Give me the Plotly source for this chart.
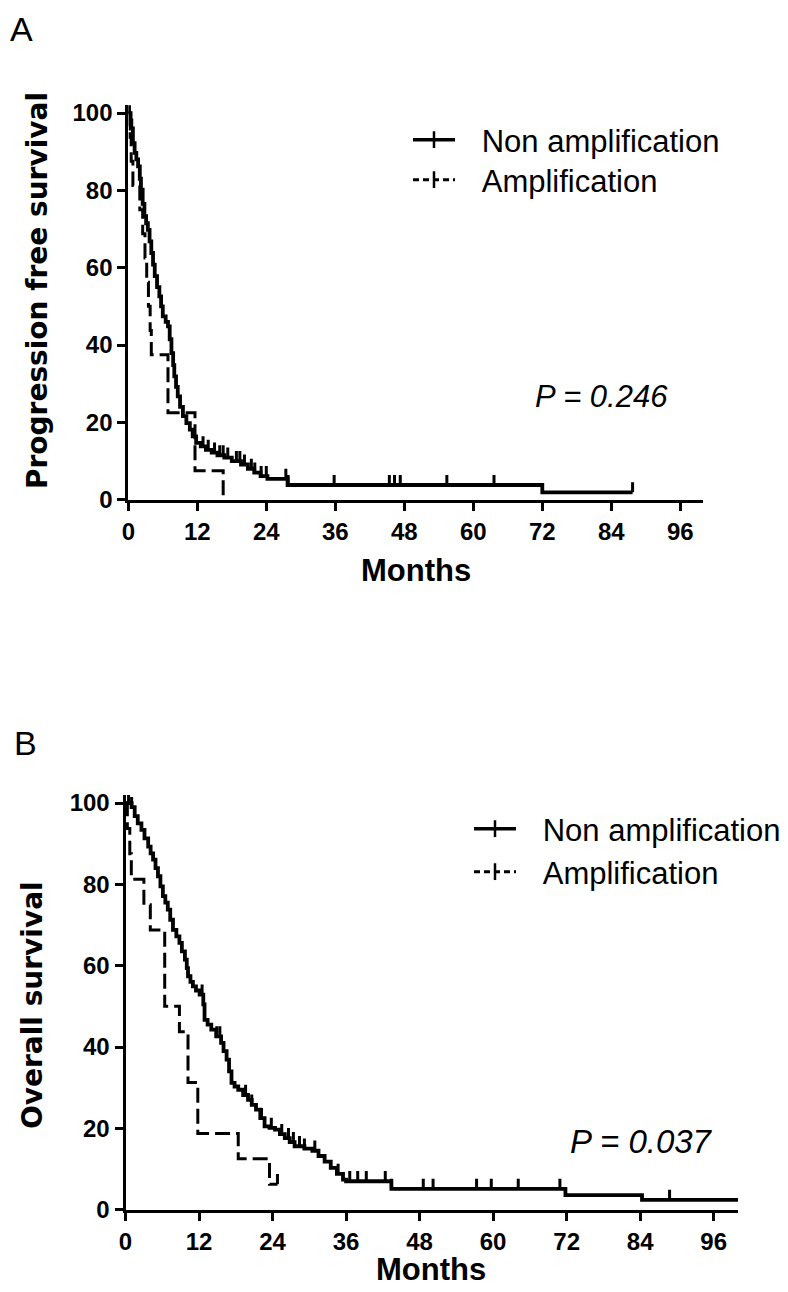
import numpy as np
import plotly.graph_objects as go

# ---------------- DATA ----------------
x_ticks = [0, 12, 24, 36, 48, 60, 72, 84, 96]
y_ticks = [0, 20, 40, 60, 80, 100]

# Panel A: progression free survival (months, %)
pfs_non_t = [0, 0.4, 0.8, 1.1, 1.4, 1.7, 2.0, 2.2, 2.5, 2.8, 3.1, 3.4, 3.7, 4.0, 4.3, 4.6,
             5.0, 5.4, 5.7, 6.0, 6.5, 6.9, 7.2, 7.5, 7.8, 8.0, 8.3, 8.6, 9.0, 9.5, 10.1,
             10.7, 11.2, 11.8, 12.6, 13.5, 14.5, 15.5, 16.7, 18.0, 19.6, 20.8, 21.9, 23.0,
             24.2, 27.7, 72.0, 87.7]
pfs_non_s = [100, 96, 92.2, 89.7, 88, 86.2, 83, 80.2, 76.5, 73.3, 71.5, 69.8, 66.8, 63.8,
             60.8, 57.8, 55, 52.6, 50, 47.4, 46, 44.8, 41.5, 37.9, 34.8, 31.9, 29.2, 26.7,
             24, 21.6, 19.8, 18.1, 16.4, 14.7, 13.8, 12.9, 12.2, 11.5, 10.9, 10.0, 9.1, 8.0,
             7.0, 6.1, 5.4, 3.8, 1.9, 1.9]
pfs_non_cens = [0.2, 0.6, 13.0, 13.9, 15.0, 15.9, 16.5, 17.3, 18.8, 19.4, 20.2, 21.4, 22.0,
                23.1, 24.0, 27.4, 27.8, 35.8, 45.4, 46.3, 47.3, 55.4, 63.6, 87.7]

pfs_amp_t = [0, 0.3, 0.5, 0.8, 2.0, 2.5, 2.9, 3.2, 3.5, 3.8, 4.0, 6.9, 11.6, 16.5]
pfs_amp_s = [100, 93.75, 87.5, 81.25, 75, 68.75, 62.5, 56.25, 50, 43.75, 37.5, 22.5, 7.5, 0]
pfs_amp_cens = []

# Panel B: overall survival (months, %)
os_non_t = [0, 1.0, 1.5, 2.0, 2.6, 3.1, 3.7, 4.1, 4.5, 4.9, 5.3, 5.7, 6.1, 6.5, 6.9, 7.3,
            7.75, 8.3, 8.8, 9.2, 9.7, 10.0, 10.2, 10.6, 11.0, 11.5, 12.1, 12.7, 12.9, 13.4,
            14.0, 14.8, 15.6, 16.0, 16.5, 16.9, 17.3, 17.8, 18.4, 19.2, 20.0, 20.6, 21.3,
            22.0, 22.7, 23.5, 24.4, 25.2, 26.0, 26.8, 27.6, 29.2, 30.5, 31.5, 32.5, 33.5,
            34.5, 35.5, 36.0, 43.4, 71.8, 84.3, 100.0]
os_non_s = [100, 99, 96.8, 95, 93.4, 91.3, 89.3, 87.6, 86.1, 84, 82, 79.5, 77.1, 75.5, 73.8,
            71.3, 68.8, 67.2, 65.6, 63.5, 61.5, 59.4, 57.4, 56, 54.9, 53.9, 52.9, 50.5, 46.7,
            45.5, 44.3, 42.6, 41, 39, 36.9, 34, 31.2, 30.3, 29.5, 28.2, 27, 25.8, 24.6, 22.5,
            20.5, 20.1, 19.7, 18.6, 17.6, 16.6, 15.6, 15.0, 14.5, 13.2, 11.8, 10.3, 8.8, 7.4,
            7.0, 5.1, 3.6, 2.4, 2.4]
os_non_cens = [0.5, 1.0, 12.5, 14.9, 15.4, 19.6, 20.6, 22.2, 23.8, 25.5, 26.6, 27.4, 28.4,
               29.2, 30.9, 34.7, 36.6, 37.9, 39.3, 42.4, 43.4, 48.6, 50.2, 57.3, 59.7, 64.1,
               70.9, 88.8]

os_amp_t = [0, 0.3, 0.7, 0.95, 3.0, 4.05, 6.4, 8.8, 10.2, 11.8, 18.4, 23.5, 24.8]
os_amp_s = [100, 93.75, 87.5, 81.25, 75, 68.75, 50, 43.75, 31.25, 18.75, 12.5, 6.25, 6.25]
os_amp_cens = [24.8]

legend_labels = ["Non amplification", "Amplification"]
p_texts = ["P = 0.246", "P = 0.037"]
y_titles = ["Progression free survival", "Overall survival"]
x_title = "Months"
panel_labels = ["A", "B"]

# ---------------- LAYOUT (pixels) ----------------
W, H = 788, 1292
FONT = "Liberation Sans"
GAP = "\u2002\u2009"  # space between legend symbol and text

def step_at(ts, ss, t):
    ts = np.asarray(ts); ss = np.asarray(ss)
    idx = np.searchsorted(ts, t, side="right") - 1
    return ss[np.clip(idx, 0, len(ss) - 1)]

# axis pixel geometry: (x0px, x100px, y0px, y102px)
geomA = (120.3, 695.3, 491.7, 97.3)
geomB = (117.5, 730.2, 1201.7, 786.9)

fig = go.Figure()

panels = [
    dict(xa="x", ya="y", non=(pfs_non_t, pfs_non_s, pfs_non_cens),
         amp=(pfs_amp_t, pfs_amp_s, pfs_amp_cens), legends=("legend", "legend2"), tick=2.6),
    dict(xa="x2", ya="y2", non=(os_non_t, os_non_s, os_non_cens),
         amp=(os_amp_t, os_amp_s, os_amp_cens), legends=("legend3", "legend4"), tick=2.5),
]

for pi, p in enumerate(panels):
    for key, dash, lw in (("non", "solid", 3.8), ("amp", "15px,6px", 3.0)):
        t, s, c = p[key]
        fig.add_trace(go.Scatter(x=t, y=s, mode="lines", line=dict(color="black", width=lw, dash=dash, shape="hv"),
                                 xaxis=p["xa"], yaxis=p["ya"], showlegend=False, cliponaxis=False,
                                 hoverinfo="skip"))
        if len(c):
            cy = step_at(t, s, c)
            fig.add_trace(go.Scatter(x=c, y=cy, mode="markers",
                                     marker=dict(size=1, color="rgba(0,0,0,0)"),
                                     error_y=dict(type="data", symmetric=False, array=[p["tick"]] * len(c),
                                                  arrayminus=[0] * len(c), width=0, thickness=3, color="black"),
                                     xaxis=p["xa"], yaxis=p["ya"], showlegend=False, cliponaxis=False,
                                     hoverinfo="skip"))
    # legend-only entries (one legend box per row for exact spacing)
    for li, (name, dash, lw) in enumerate(((legend_labels[0], "solid", 3.5), (legend_labels[1], "6px,4px", 3.0))):
        fig.add_trace(go.Scatter(x=[None], y=[None], mode="lines+markers", name=GAP + name,
                                 line=dict(color="black", width=lw, dash=dash),
                                 marker=dict(symbol="line-ns", size=12, line=dict(color="black", width=2.5)),
                                 xaxis=p["xa"], yaxis=p["ya"], legend=p["legends"][li]))

def axis_common(tickvals, rng):
    return dict(range=rng, tickvals=tickvals, ticks="outside", ticklen=8, tickwidth=3, tickcolor="black",
                showline=True, linewidth=3, linecolor="black", showgrid=False, zeroline=False,
                automargin=False,
                tickfont=dict(family=FONT, size=24, color="black", weight="bold"), fixedrange=True)

def dom_x(g):
    return [g[0] / W, g[1] / W]

def dom_y(g):
    return [1 - g[2] / H, 1 - g[3] / H]

def leg(xpx, ypx, size):
    return dict(x=xpx / W, y=1 - ypx / H, xanchor="left", yanchor="middle", bgcolor="rgba(0,0,0,0)",
                font=dict(family=FONT, size=size, color="black"), itemwidth=42)

fig.update_layout(
    width=W, height=H, margin=dict(l=0, r=0, t=0, b=0, pad=0, autoexpand=False),
    paper_bgcolor="white", plot_bgcolor="white",
    xaxis=dict(domain=dom_x(geomA), anchor="y", **axis_common(x_ticks, [0, 100])),
    yaxis=dict(domain=dom_y(geomA), anchor="x", **axis_common(y_ticks, [0, 102])),
    xaxis2=dict(domain=dom_x(geomB), anchor="y2", **axis_common(x_ticks, [0, 100])),
    yaxis2=dict(domain=dom_y(geomB), anchor="x2", **axis_common(y_ticks, [0, 102])),
    legend=leg(400, 132, 31),
    legend2=leg(400, 172, 31),
    legend3=leg(461, 821, 31),
    legend4=leg(461, 864, 31),
)

ann = []
ann.append(dict(text=panel_labels[0], x=0 / W, y=1 - 0 / H, xanchor="left", yanchor="top", font=dict(family=FONT, size=34)))
ann.append(dict(text=panel_labels[1], x=4 / W, y=1 - 714 / H, xanchor="left", yanchor="top", font=dict(family=FONT, size=34)))
ann.append(dict(text="<b>%s</b>" % y_titles[0], x=30 / W, y=1 - 283 / H, textangle=-90, xanchor="center", yanchor="middle",
                font=dict(family="DejaVu Sans", size=28)))
ann.append(dict(text="<b>%s</b>" % y_titles[1], x=24 / W, y=1 - 997 / H, textangle=-90, xanchor="center", yanchor="middle",
                font=dict(family="DejaVu Sans", size=28)))
ann.append(dict(text="<b>%s</b>" % x_title, x=408 / W, y=1 - 563 / H, xanchor="center", yanchor="middle", font=dict(family=FONT, size=31)))
ann.append(dict(text="<b>%s</b>" % x_title, x=423 / W, y=1 - 1261 / H, xanchor="center", yanchor="middle", font=dict(family=FONT, size=31)))
ann.append(dict(text="<i>%s</i>" % p_texts[0], x=525 / W, y=1 - 388 / H, xanchor="left", yanchor="middle", font=dict(family=FONT, size=31)))
ann.append(dict(text="<i>%s</i>" % p_texts[1], x=560 / W, y=1 - 1133 / H, xanchor="left", yanchor="middle", font=dict(family=FONT, size=33)))
for a in ann:
    a.update(xref="paper", yref="paper", showarrow=False)
    a["font"].setdefault("color", "black")
fig.update_layout(annotations=ann)

fig.write_html("out.html")
